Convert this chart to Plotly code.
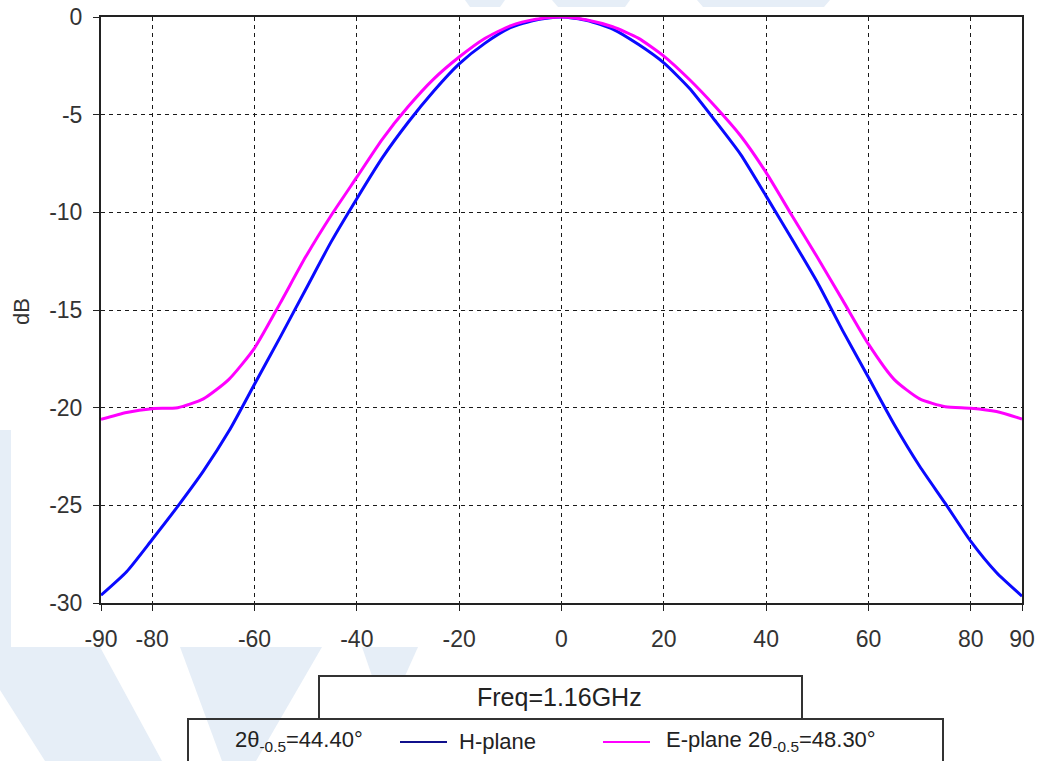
import plotly.graph_objects as go

# ---------------- data ----------------
angle_deg = [-90, -85, -80, -75, -70, -65, -60, -55, -50, -45, -40, -35, -30, -25, -20, -15, -10, -5,
             0, 5, 10, 15, 20, 25, 30, 35, 40, 45, 50, 55, 60, 65, 70, 75, 80, 85, 90]

h_plane_db = [-29.6, -28.4, -26.75, -25.05, -23.25, -21.2, -18.8, -16.4, -13.95, -11.5, -9.3, -7.2,
              -5.4, -3.8, -2.4, -1.35, -0.55, -0.15,
              0.0, -0.18, -0.62, -1.4, -2.35, -3.65, -5.3, -7.03, -9.17, -11.35, -13.58, -16.08,
              -18.46, -20.85, -23.0, -24.9, -26.85, -28.44, -29.65]

e_plane_db = [-20.6, -20.25, -20.05, -20.0, -19.55, -18.55, -16.95, -14.66, -12.28, -10.15, -8.2, -6.25,
              -4.6, -3.18, -2.05, -1.1, -0.45, -0.12,
              0.0, -0.15, -0.5, -1.08, -2.0, -3.2, -4.57, -6.08, -7.97, -10.15, -12.3, -14.52,
              -16.75, -18.55, -19.55, -19.95, -20.03, -20.2, -20.58]

x_tick_vals = [-90, -80, -60, -40, -20, 0, 20, 40, 60, 80, 90]
y_tick_vals = [0, -5, -10, -15, -20, -25, -30]

freq_label = "Freq=1.16GHz"
h_label = "H-plane"
h_width_label = "2θ<sub>-0.5</sub>=44.40°"
e_label = "E-plane 2θ<sub>-0.5</sub>=48.30°"

# ---------------- geometry ----------------
W, H = 1037, 761
L, R, T, B = 101, 1022, 17, 603


def px(x):
    return (x - L) / (R - L)


def py(y):
    return (B - y) / (B - T)


fig = go.Figure()
fig.add_trace(go.Scatter(x=angle_deg, y=h_plane_db, mode="lines", name=h_label,
                         line=dict(color="#0a0aff", width=3, shape="spline", smoothing=0.6),
                         showlegend=False))
fig.add_trace(go.Scatter(x=angle_deg, y=e_plane_db, mode="lines", name="E-plane",
                         line=dict(color="#ff00ff", width=3, shape="spline", smoothing=0.6),
                         showlegend=False))

tick_font = dict(family="Liberation Sans, Arial, sans-serif", size=23, color="#333333")

fig.update_xaxes(range=[-90, 90], tickvals=x_tick_vals, ticktext=[str(v) for v in x_tick_vals],
                 showgrid=True, gridcolor="#1a1a1a", gridwidth=1, griddash="4px,4px",
                 showline=True, linecolor="#222222", linewidth=2, mirror=True,
                 ticks="outside", ticklen=6, tickcolor="#222222", tickfont=tick_font,
                 ticklabelstandoff=8, zeroline=False, fixedrange=True, automargin=False)
fig.update_yaxes(range=[-30, 0], tickvals=y_tick_vals, ticktext=[str(v) for v in y_tick_vals],
                 showgrid=True, gridcolor="#1a1a1a", gridwidth=1, griddash="4px,4px",
                 showline=True, linecolor="#222222", linewidth=2, mirror=True,
                 ticks="outside", ticklen=6, tickcolor="#222222", tickfont=tick_font,
                 ticklabelstandoff=6, zeroline=False, fixedrange=True, automargin=False)

# ---------------- watermark decoration ----------------
wm = "#e6eef7"
polys = [
    [(0, 430), (11, 430), (11, 647), (100, 647), (162, 761), (45, 761), (0, 690)],
    [(180, 647), (322, 647), (256, 761), (222, 761)],
    [(362, 647), (418, 647), (405, 676), (372, 676)],
    [(465, 0), (505, 0), (500, 7), (470, 7)],
    [(552, 0), (630, 0), (625, 7), (558, 7)],
    [(697, 0), (830, 0), (824, 7), (703, 7)],
]
shapes = []
for poly in polys:
    path = "M " + " L ".join(f"{px(a):.5f},{py(b):.5f}" for a, b in poly) + " Z"
    shapes.append(dict(type="path", xref="paper", yref="paper", path=path,
                       fillcolor=wm, line=dict(width=0), layer="below"))

# legend boxes
box_col = "#333333"
shapes.append(dict(type="rect", xref="paper", yref="paper",
                   x0=px(319), x1=px(802), y0=py(719), y1=py(676),
                   line=dict(color=box_col, width=2), fillcolor="rgba(0,0,0,0)"))
shapes.append(dict(type="rect", xref="paper", yref="paper",
                   x0=px(188), x1=px(943), y0=py(790), y1=py(719),
                   line=dict(color=box_col, width=2), fillcolor="rgba(0,0,0,0)"))
# legend sample lines
shapes.append(dict(type="line", xref="paper", yref="paper",
                   x0=px(400), x1=px(447), y0=py(742), y1=py(742),
                   line=dict(color="#10108c", width=2)))
shapes.append(dict(type="line", xref="paper", yref="paper",
                   x0=px(603), x1=px(650), y0=py(742), y1=py(742),
                   line=dict(color="#ff00ff", width=2)))

text_font = dict(family="Liberation Sans, Arial, sans-serif", color="#222222")
annotations = [
    dict(text=freq_label, xref="paper", yref="paper", x=px(559), y=py(697),
         xanchor="center", yanchor="middle", showarrow=False, font=dict(size=25, **text_font)),
    dict(text=h_width_label, xref="paper", yref="paper", x=px(233), y=py(741),
         xanchor="left", yanchor="middle", showarrow=False, font=dict(size=22, **text_font)),
    dict(text=h_label, xref="paper", yref="paper", x=px(457), y=py(741),
         xanchor="left", yanchor="middle", showarrow=False, font=dict(size=22, **text_font)),
    dict(text=e_label, xref="paper", yref="paper", x=px(664), y=py(741),
         xanchor="left", yanchor="middle", showarrow=False, font=dict(size=22, **text_font)),
    dict(text="dB", xref="paper", yref="paper", x=px(21), y=py(312), textangle=-90,
         xanchor="center", yanchor="middle", showarrow=False,
         font=dict(family=tick_font["family"], size=22, color="#333333")),
]

fig.update_layout(width=W, height=H, margin=dict(l=L, r=W - R, t=T, b=H - B, pad=0),
                  paper_bgcolor="white", plot_bgcolor="white",
                  shapes=shapes, annotations=annotations, showlegend=False)

fig.write_html("out.html", config={"displayModeBar": False},
               post_script="document.body.style.margin='0px';document.body.style.overflow='hidden';")
